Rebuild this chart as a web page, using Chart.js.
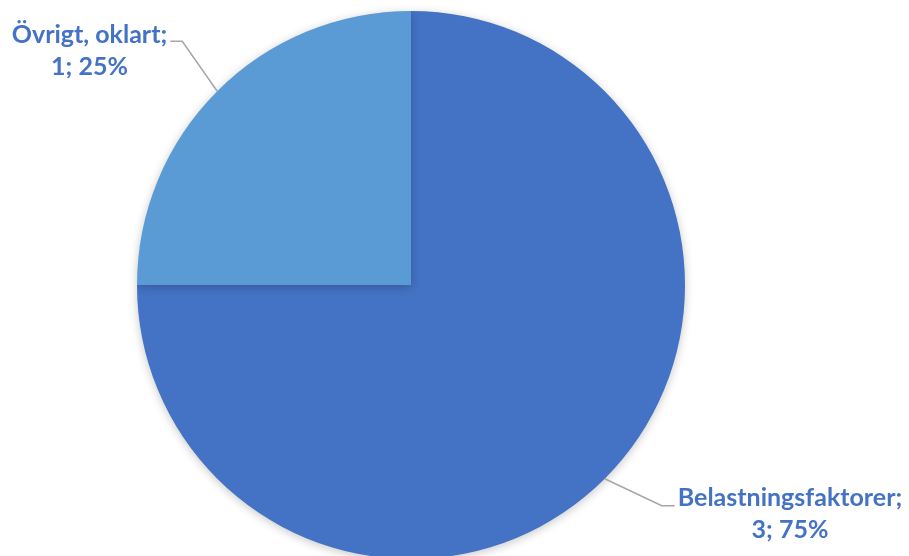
<!DOCTYPE html>
<html>
<head>
<meta charset="utf-8">
<script src="https://cdn.jsdelivr.net/npm/chart.js@4"></script>
<style>
  html, body { margin: 0; padding: 0; background: #fff; overflow: hidden; }
  #wrap { position: relative; width: 909px; height: 570px; }
</style>
</head>
<body>
<div id="wrap"><canvas id="pie-chart"></canvas></div>
<script>
// Data
const categories = ['Belastningsfaktorer', 'Övrigt, oklart'];
const counts = [3, 1];
const percentLabels = ['75%', '25%'];
const sliceColors = ['#4472C4', '#5B9BD5'];

// Leader line layout per slice: elbow offset from arc edge, horizontal run
const leaderLayout = [
  { dx: 57, dy: 27, run: 13 },
  { dx: -35, dy: -50, run: -12 }
];

const shadowPlugin = {
  id: 'shadow',
  beforeDatasetDraw(chart) {
    const c = chart.ctx;
    c.save();
    c.shadowColor = 'rgba(0,0,0,0.22)';
    c.shadowBlur = 10;
    c.shadowOffsetX = 0;
    c.shadowOffsetY = 2;
  },
  afterDatasetDraw(chart) {
    chart.ctx.restore();
  }
};

const labelPlugin = {
  id: 'outLabels',
  afterDatasetsDraw(chart) {
    const c = chart.ctx;
    const meta = chart.getDatasetMeta(0);
    meta.data.forEach((arc, i) => {
      const p = arc.getProps(['x', 'y', 'startAngle', 'endAngle', 'outerRadius'], true);
      const mid = (p.startAngle + p.endAngle) / 2;
      const sx = p.x + Math.cos(mid) * p.outerRadius;
      const sy = p.y + Math.sin(mid) * p.outerRadius;
      const lay = leaderLayout[i];
      const ex = sx + lay.dx, ey = sy + lay.dy;
      const hx = ex + lay.run;

      c.save();
      c.strokeStyle = '#A6A6A6';
      c.lineWidth = 1.5;
      c.beginPath();
      c.moveTo(sx, sy);
      c.lineTo(ex, ey);
      c.lineTo(hx, ey);
      c.stroke();

      c.font = "bold 25px Lato, 'Open Sans', sans-serif";
      c.fillStyle = '#4472C4';
      c.textBaseline = 'middle';
      const line1 = categories[i] + ';';
      const line2 = counts[i] + '; ' + percentLabels[i];
      const w = c.measureText(line1).width;
      const gap = 3;
      let cx;
      if (lay.run > 0) cx = hx + gap + w / 2;
      else cx = hx - gap - w / 2;
      c.textAlign = 'center';
      const y1 = lay.run > 0 ? ey - 8 : ey - 6;
      c.fillText(line1, cx, y1);
      c.fillText(line2, cx, y1 + 32);
      c.restore();
    });
  }
};

new Chart(document.getElementById('pie-chart'), {
  type: 'pie',
  data: {
    labels: categories,
    datasets: [{
      data: counts,
      backgroundColor: sliceColors,
      borderWidth: 0
    }]
  },
  options: {
    responsive: true,
    maintainAspectRatio: false,
    animation: false,
    layout: { padding: { top: 11, bottom: 11, left: 0, right: 87 } },
    plugins: {
      legend: { display: false },
      tooltip: { enabled: false }
    }
  },
  plugins: [shadowPlugin, labelPlugin]
});
</script>
</body>
</html>
